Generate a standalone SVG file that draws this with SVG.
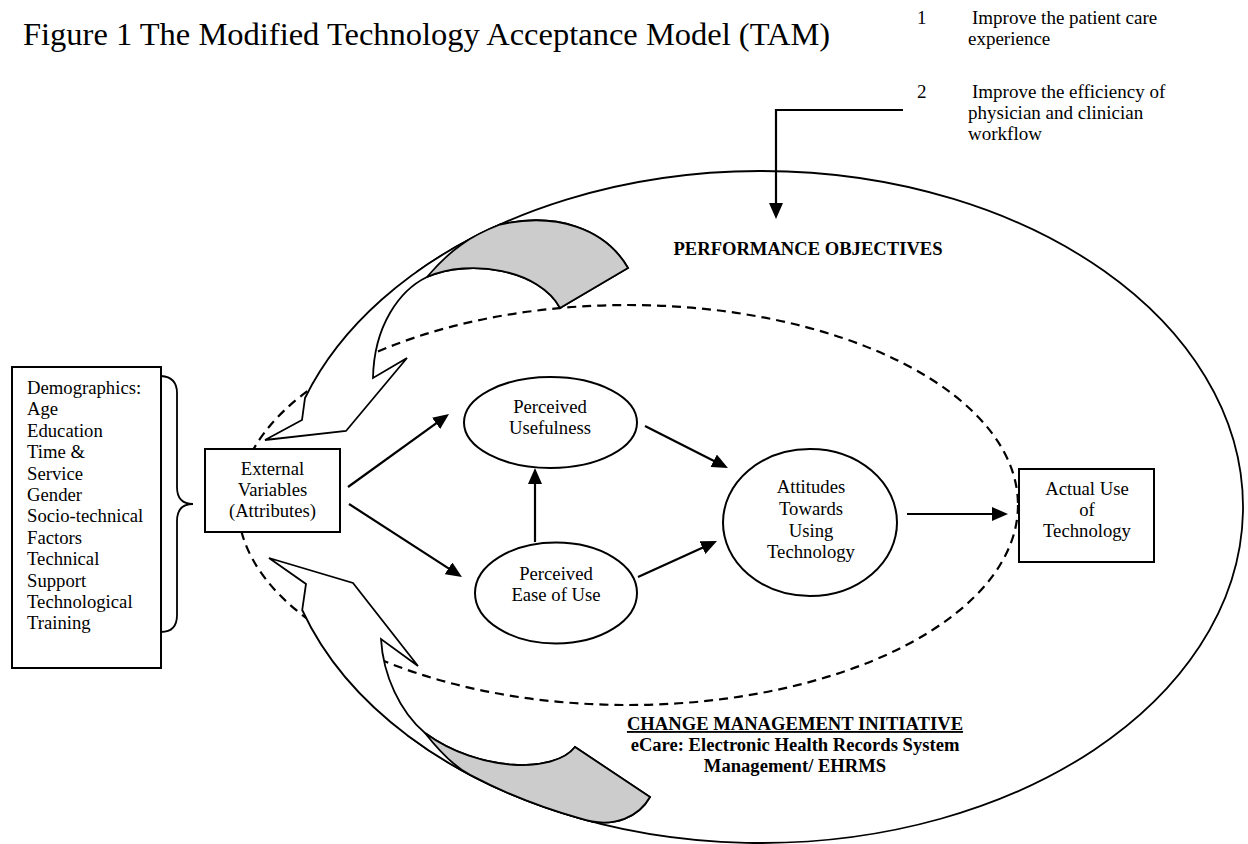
<svg xmlns="http://www.w3.org/2000/svg" width="1248" height="844" viewBox="0 0 1248 844">
<style>
.t{font-family:"Liberation Serif","Times New Roman",serif;font-size:18.7px;fill:#000}
.b{font-weight:bold;font-size:18.6px}
.c{text-anchor:middle}
.node{fill:#fff;stroke:#000;stroke-width:2}
.band{fill:#fff;stroke:#000;stroke-width:1.8;stroke-linejoin:miter}
.gray{fill:#cccccc;stroke:#000;stroke-width:1.8}
.conn{stroke:#000;stroke-width:2.2;fill:none;marker-end:url(#ah)}
</style>
<defs>
<marker id="ah" markerUnits="userSpaceOnUse" markerWidth="16" markerHeight="14" refX="12" refY="7" orient="auto">
<path d="M0,0 L16,7 L0,14 Z" fill="#000"/>
</marker>
</defs>
<rect width="1248" height="844" fill="#fff"/>
<text class="t" x="23" y="45" style="font-size:32.5px">Figure 1 The Modified Technology Acceptance Model (TAM)</text>
<g id="objectives-list" class="t" style="font-size:19px">
<text x="917" y="24">1</text><text x="972" y="24">Improve the patient care</text>
<text x="968" y="45">experience</text>
<text x="917" y="98">2</text><text x="972" y="98">Improve the efficiency of</text>
<text x="968" y="119">physician and clinician</text>
<text x="968" y="140">workflow</text>
</g>
<g id="outer-ellipse">
<path d="M416.5 272 A482 336 0 1 1 407 735" fill="none" stroke="#000" stroke-width="1.8"/>
</g>
<g id="inner-ellipse">
<ellipse cx="628" cy="505" rx="390" ry="200" fill="none" stroke="#000" stroke-width="2.2" stroke-dasharray="9 6"/>
</g>
<g id="upper-curved-arrow">
<path class="band" d="M265 440 L302 420 L305 398 A482 336 0 0 1 500 224.5 C555 212 605 228 628 268 L560 308 C540 270 470 258 427 277 C400 290 374 325 373 378 L407 358 L346 431 Z"/>
<path class="gray" d="M427 277 C450 250 470 236 500 224.5 C555 212 605 228 628 268 L560 308 C540 270 470 258 427 277 Z"/>
</g>
<g id="lower-curved-arrow">
<path class="band" d="M269 558 L306 584 L302.2 610 A482 336 0 0 0 580 818.4 C615 830 640 815 650 797 L575 747 C555 773 480 773 425 733 C400 712 383 675 381 639 L418 666 L353 583 Z"/>
<path class="gray" d="M425 733 C440 752 455 767 470 774.9 A482 336 0 0 0 580 818.4 C615 830 640 815 650 797 L575 747 C555 773 480 773 425 733 Z"/>
</g>
<g id="performance-objectives"><text class="t b c" x="808" y="255">PERFORMANCE OBJECTIVES</text></g>
<g id="change-management" class="t b c">
<text x="795" y="730" style="text-decoration:underline">CHANGE MANAGEMENT INITIATIVE</text>
<text x="795" y="751">eCare: Electronic Health Records System</text>
<text x="795" y="772">Management/ EHRMS</text>
</g>
<g id="demographics">
<rect class="node" x="12" y="367" width="149" height="301"/>
<g class="t">
<text x="27" y="394">Demographics:</text>
<text x="27" y="415.4">Age</text>
<text x="27" y="436.8">Education</text>
<text x="27" y="458.2">Time &amp;</text>
<text x="27" y="479.6">Service</text>
<text x="27" y="501">Gender</text>
<text x="27" y="522.4">Socio-technical</text>
<text x="27" y="543.8">Factors</text>
<text x="27" y="565.2">Technical</text>
<text x="27" y="586.6">Support</text>
<text x="27" y="608">Technological</text>
<text x="27" y="629.4">Training</text>
</g>
</g>
<g id="brace">
<path d="M161 376 Q177 377 177 393 L177 487 Q177 504 193 504 Q177 504 177 521 L177 615 Q177 632 161 632" fill="none" stroke="#000" stroke-width="1.8"/>
</g>
<g id="external-variables">
<rect class="node" x="205" y="449" width="135" height="83"/>
<g class="t c"><text x="272.5" y="475">External</text><text x="272.5" y="496">Variables</text><text x="272.5" y="517">(Attributes)</text></g>
</g>
<g id="perceived-usefulness">
<ellipse class="node" cx="550.5" cy="422.5" rx="86.5" ry="45.5"/>
<g class="t c"><text x="550" y="413">Perceived</text><text x="550" y="434">Usefulness</text></g>
</g>
<g id="perceived-ease">
<ellipse class="node" cx="556" cy="593" rx="81" ry="50.5"/>
<g class="t c"><text x="556" y="580">Perceived</text><text x="556" y="601">Ease of Use</text></g>
</g>
<g id="attitudes">
<ellipse class="node" cx="810" cy="522.5" rx="87" ry="73.5"/>
<g class="t c"><text x="811" y="493">Attitudes</text><text x="811" y="515">Towards</text><text x="811" y="537">Using</text><text x="811" y="558">Technology</text></g>
</g>
<g id="actual-use">
<rect class="node" x="1019" y="469" width="135" height="93"/>
<g class="t c"><text x="1087" y="495">Actual Use</text><text x="1087" y="516">of</text><text x="1087" y="537">Technology</text></g>
</g>
<g id="connectors">
<line class="conn" x1="348" y1="487" x2="445.8" y2="416.3"/>
<line class="conn" x1="349" y1="504" x2="458.6" y2="574.8"/>
<line class="conn" x1="535" y1="542" x2="535" y2="472"/>
<line class="conn" x1="645" y1="426" x2="724.4" y2="466.2"/>
<line class="conn" x1="638" y1="577" x2="713.4" y2="542.7"/>
<line class="conn" x1="907" y1="514" x2="1004" y2="514"/>
<path class="conn" d="M903 110 L776 110 L776 215"/>
</g>
</svg>
